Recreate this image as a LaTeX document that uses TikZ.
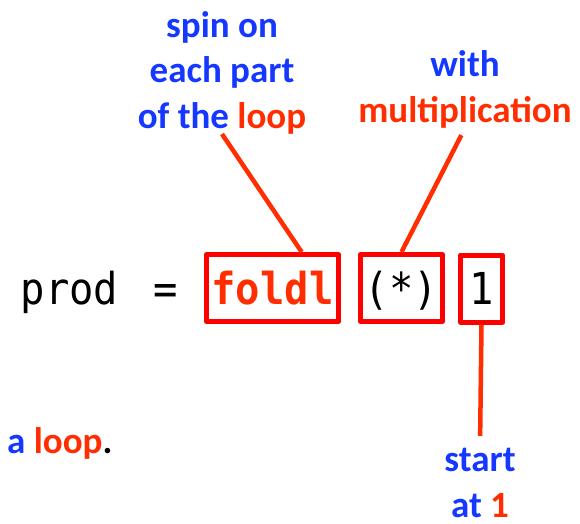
\documentclass[tikz,border=0pt]{standalone}
\usepackage{fontspec}
\setmainfont{Carlito}
\newfontfamily\codefont[FakeStretch=0.92]{DejaVu Sans Mono}
\definecolor{labelblue}{RGB}{20,56,255}
\definecolor{labelred}{RGB}{255,45,0}
\definecolor{boxred}{RGB}{255,0,0}

\begin{document}
\begin{tikzpicture}[x=1pt, y=-1pt, line join=round, line cap=butt,
    code/.style={font=\codefont\fontsize{44}{50}\selectfont, text height=32pt, text depth=0pt, inner sep=0pt, minimum height=67pt},
    codebox/.style={code, draw=boxred, line width=5pt},
    note/.style={font=\fontsize{37}{45.5}\selectfont\bfseries, text=labelblue, align=center, inner sep=0pt},
    link/.style={draw=labelred, line width=4.5pt}]
  \useasboundingbox (0,0) rectangle (580,523);
  % the line of code
  \node[code, anchor=base west] (prod) at (20.5,304) {prod};
  \node[code, anchor=base west] (eq) at (153,304) {=};
  \node[codebox, text=labelred, minimum width=132pt] (foldl) at (272.5,288) {\bfseries foldl};
  \node[codebox, minimum width=82pt] (star) at (401.5,288) {(*)};
  \node[codebox, minimum width=42pt] (one) at (481.5,288.5) {1};
  % notes (anchored at the last line)
  \node[note, anchor=base] (spin) at (222,128) {spin on\\each part\\of the \textcolor{labelred}{loop}};
  \node[note, anchor=base] (mult) at (465,122) {with\\\textcolor{labelred}{multiplication}};
  \node[note, anchor=base west] (aloop) at (7,453) {a \textcolor{labelred}{loop}\textcolor{black}{.}};
  \node[note, anchor=base, text depth=0pt] (start) at (480,517) {start\\at \textcolor{labelred}{1}};
  % pointers
  \draw[link] (spin.south) -- (foldl.51);
  \draw[link, shorten <=8pt] (mult.south) -- (star.north);
  \draw[link, shorten >=12pt] (one.south) -- (start.north);
\end{tikzpicture}
\end{document}
